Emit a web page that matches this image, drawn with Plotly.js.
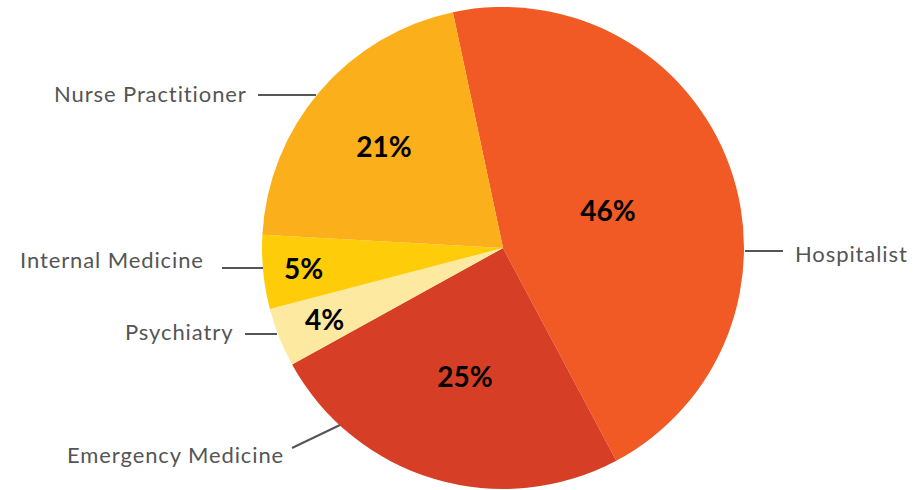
<!DOCTYPE html>
<html><head><meta charset="utf-8">
<script src="https://cdn.plot.ly/plotly-3.0.1.min.js"></script>
<style>html,body{margin:0;padding:0;background:#fff;}#chart{width:917px;height:490px;}
.annotation-text{letter-spacing:0.9px;}
.annotation.pct .annotation-text{letter-spacing:0;}</style>
</head><body><div id="chart"></div>
<script>
const categories = ["Hospitalist", "Emergency Medicine", "Psychiatry", "Internal Medicine", "Nurse Practitioner"];
const shares = [46, 25, 4, 5, 21];
const sliceColors = ["#F15A24", "#D63F26", "#FDEAA0", "#FECC09", "#FBAF1A"];

const W = 917, H = 490;
const px = x => x / W, py = y => 1 - y / H;

// pie geometry (layout)
const cx = 503, cy = 248, r = 241, rotationDeg = -12;
// radial placement of each percentage label, as a fraction of the radius (layout)
const pctRadius = [0.464, 0.556, 0.796, 0.834, 0.648];

// label callouts (pixel layout positions)
const callouts = [
  {x: 793, y: 253, lx0: 745, ly0: 251, lx1: 783, ly1: 251, anchor: "left"},
  {x: 286, y: 454, lx0: 292, ly0: 448, lx1: 340, ly1: 425, anchor: "right"},
  {x: 235, y: 331, lx0: 245, ly0: 334, lx1: 277, ly1: 334, anchor: "right"},
  {x: 206, y: 259, lx0: 222, ly0: 268, lx1: 263, ly1: 268, anchor: "right"},
  {x: 249, y: 93, lx0: 258, ly0: 95, lx1: 316, ly1: 95, anchor: "right"}
];

const annotations = categories.map((c, i) => ({
  text: c, xref: "paper", yref: "paper",
  x: px(callouts[i].x), y: py(callouts[i].y),
  xanchor: callouts[i].anchor, yanchor: "middle", showarrow: false,
  font: {family: "Lato, sans-serif", size: 22, color: "#555555"}
}));

// percentage labels placed at each slice's mid-angle, derived from the data
const total = shares.reduce((a, b) => a + b, 0);
let acc = 0;
shares.forEach((v, i) => {
  const mid = (rotationDeg + (acc + v / 2) / total * 360) * Math.PI / 180;
  acc += v;
  const rr = r * pctRadius[i];
  annotations.push({
    text: "<b>" + v + "%</b>", xref: "paper", yref: "paper",
    x: px(cx + rr * Math.sin(mid)), y: py(cy - rr * Math.cos(mid)),
    xanchor: "center", yanchor: "middle", showarrow: false,
    font: {family: "Lato, sans-serif", size: 28, color: "#000"}
  });
});

const shapes = callouts.map(o => ({
  type: "line", xref: "paper", yref: "paper",
  x0: px(o.lx0), y0: py(o.ly0), x1: px(o.lx1), y1: py(o.ly1),
  line: {color: "#555555", width: 2}
}));

const trace = {
  type: "pie", labels: categories, values: shares, sort: false,
  direction: "clockwise", rotation: rotationDeg,
  marker: {colors: sliceColors, line: {width: 0}},
  textinfo: "none",
  domain: {x: [px(cx - r), px(cx + r)], y: [py(cy + r), py(cy - r)]},
  hoverinfo: "label+value", showlegend: false
};

Plotly.newPlot("chart", [trace], {
  width: W, height: H, margin: {l: 0, r: 0, t: 0, b: 0},
  paper_bgcolor: "#fff", showlegend: false,
  annotations: annotations, shapes: shapes
}, {displayModeBar: false, staticPlot: true}).then(() => {
  document.querySelectorAll(".annotation").forEach((g, i) => {
    if (i >= categories.length) g.classList.add("pct");
  });
});
</script></body></html>
